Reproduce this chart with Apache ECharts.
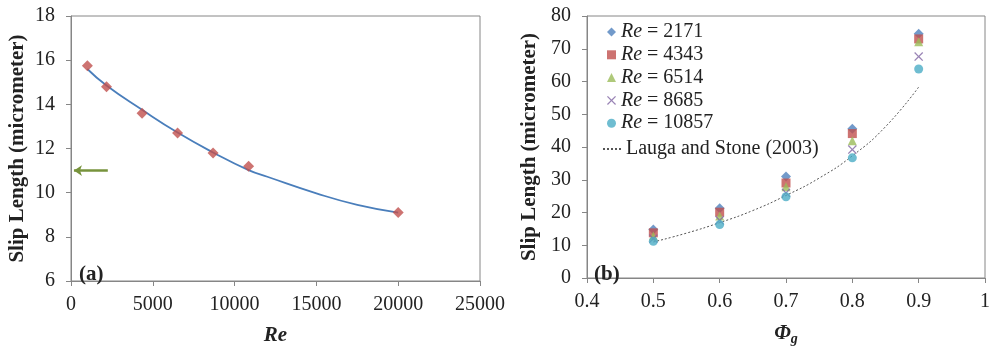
<!DOCTYPE html>
<html>
<head>
<meta charset="utf-8">
<script src="https://cdn.jsdelivr.net/npm/echarts@6/dist/echarts.min.js"></script>
<style>
  html, body { margin: 0; padding: 0; background: #fff; }
  #main { width: 993px; height: 351px; }
</style>
</head>
<body>
<div id="main"></div>
<script>
// (a) slip length vs Re
const leftRe = [1000, 2171, 4343, 6514, 8685, 10857, 20000];
const leftSlip = [15.75, 14.8, 13.6, 12.7, 11.8, 11.2, 9.1];
const fitRe = [1000, 2171, 4343, 6514, 8685, 10857, 12000, 15000, 17500, 20000];
const fitSlip = [15.6, 14.85, 13.75, 12.72, 11.82, 11.02, 10.72, 9.97, 9.45, 9.1];
const arrowY = 11;
const arrowFrom = 2250;
const arrowTo = 180;

// (b) slip length vs phi_g
const phi = [0.5, 0.6, 0.7, 0.8, 0.9];
const reNames = ['Re = 2171', 'Re = 4343', 'Re = 6514', 'Re = 8685', 'Re = 10857'];
const re2171 = [14.8, 21.3, 31.0, 45.6, 74.6];
const re4343 = [13.8, 20.1, 29.0, 44.1, 73.0];
const re6514 = [12.8, 18.9, 27.9, 41.9, 72.1];
const re8685 = [12.0, 17.6, 26.0, 39.2, 67.6];
const re10857 = [11.2, 16.3, 24.8, 36.7, 63.8];
const laugaName = 'Lauga and Stone (2003)';
const laugaPhi = [0.5, 0.55, 0.6, 0.65, 0.7, 0.75, 0.8, 0.85, 0.9];
const laugaSlip = [11.0, 13.7, 16.9, 20.6, 25.2, 30.5, 37.3, 46.2, 58.3];

const serif = '"Liberation Serif", "Times New Roman", serif';
const axisColor = '#868686';
const textColor = '#222';

const zip = (xs, ys) => xs.map((x, i) => [x, ys[i]]);
const crossPath = 'path://M0,1L1,0L5,4L9,0L10,1L6,5L10,9L9,10L5,6L1,10L0,9L4,5Z';

const reSets = [
  { data: re2171, symbol: 'diamond', size: 10, color: '#4F81BD' },
  { data: re4343, symbol: 'rect', size: 9, color: '#C0504D' },
  { data: re6514, symbol: 'triangle', size: 9, color: '#9BBB59' },
  { data: re8685, symbol: crossPath, size: 9, color: '#8064A2' },
  { data: re10857, symbol: 'circle', size: 9, color: '#4BACC6' },
];

const axisCommon = {
  axisLine: { show: true, lineStyle: { color: axisColor, width: 1 } },
  axisTick: { show: true, length: 5, lineStyle: { color: axisColor } },
  splitLine: { show: false },
  axisLabel: { color: textColor, fontFamily: serif, fontSize: 20 },
};

const legendText = {
  fontFamily: serif, fontSize: 20, color: textColor,
  rich: { i: { fontFamily: serif, fontSize: 20, fontStyle: 'italic', color: textColor } },
};

let myChart = echarts.init(document.getElementById('main'));
myChart.setOption({
  animation: false,
  title: [
    { text: '(a)', left: 74, top: 259, textStyle: { fontFamily: serif, fontSize: 21, fontWeight: 'bold', color: textColor } },
    { text: '(b)', left: 589, top: 259, textStyle: { fontFamily: serif, fontSize: 21, fontWeight: 'bold', color: textColor } },
  ],
  grid: [
    { left: 71, top: 16, width: 409, bottom: 65, show: true, borderColor: axisColor, borderWidth: 1 },
    { left: 587, top: 16, right: -2, bottom: 64, show: true, borderColor: axisColor, borderWidth: 1 },
  ],
  legend: [
    {
      orient: 'vertical',
      left: 602,
      top: 17,
      itemWidth: 9,
      itemHeight: 9,
      itemGap: 2.8,
      data: reNames,
      formatter: (name) => '{i|Re}' + name.slice(2),
      textStyle: legendText,
    },
    {
      orient: 'vertical',
      left: 597,
      top: 134,
      itemWidth: 18,
      itemHeight: 8,
      itemGap: 2,
      data: [laugaName],
      itemStyle: { opacity: 0 },
      textStyle: legendText,
    },
  ],
  xAxis: [
    {
      ...axisCommon,
      type: 'value', gridIndex: 0, min: 0, max: 25000, interval: 5000,
      axisLabel: { ...axisCommon.axisLabel, margin: 14, formatter: (v) => String(v) },
      name: 'Re', nameLocation: 'middle', nameGap: 44,
      nameTextStyle: { fontFamily: serif, fontSize: 21, fontWeight: 'bold', fontStyle: 'italic', color: textColor },
    },
    {
      ...axisCommon,
      type: 'value', gridIndex: 1, min: 0.4, max: 1.0, interval: 0.1,
      axisLabel: { ...axisCommon.axisLabel, margin: 14, formatter: (v) => (Math.abs(v - 1) < 1e-6 ? '1' : v.toFixed(1)) },
      name: '{p|Φ}{g|g}', nameLocation: 'middle', nameGap: 44,
      nameTextStyle: {
        rich: {
          p: { fontFamily: serif, fontSize: 21, fontWeight: 'bold', fontStyle: 'italic', color: textColor },
          g: { fontFamily: serif, fontSize: 14, fontWeight: 'bold', fontStyle: 'italic', color: textColor, padding: [10, 0, 0, 0] },
        },
      },
    },
  ],
  yAxis: [
    {
      ...axisCommon,
      type: 'value', gridIndex: 0, min: 6, max: 18, interval: 2,
      axisLabel: { ...axisCommon.axisLabel, margin: 16 },
      name: 'Slip Length (micrometer)', nameLocation: 'middle', nameGap: 43,
      nameTextStyle: { fontFamily: serif, fontSize: 21, fontWeight: 'bold', color: textColor },
    },
    {
      ...axisCommon,
      type: 'value', gridIndex: 1, min: 0, max: 80, interval: 10,
      axisLabel: { ...axisCommon.axisLabel, margin: 16 },
      name: 'Slip Length (micrometer)', nameLocation: 'middle', nameGap: 47,
      nameTextStyle: { fontFamily: serif, fontSize: 21, fontWeight: 'bold', color: textColor },
    },
  ],
  series: [
    {
      name: 'fit',
      type: 'line',
      xAxisIndex: 0, yAxisIndex: 0,
      smooth: true,
      symbol: 'none',
      lineStyle: { color: '#4A7EBB', width: 1.8 },
      data: zip(fitRe, fitSlip),
      z: 2,
    },
    {
      name: 'data',
      type: 'scatter',
      xAxisIndex: 0, yAxisIndex: 0,
      symbol: 'diamond',
      symbolSize: 11,
      itemStyle: { color: '#C0504D' },
      data: zip(leftRe, leftSlip),
      z: 3,
      markLine: {
        silent: true,
        symbol: ['none', 'arrow'],
        symbolSize: [8, 8],
        label: { show: false },
        lineStyle: { color: '#77933C', width: 2.5, type: 'solid' },
        data: [[{ coord: [arrowFrom, arrowY] }, { coord: [arrowTo, arrowY] }]],
      },
    },
    {
      name: laugaName,
      type: 'line',
      xAxisIndex: 1, yAxisIndex: 1,
      smooth: true,
      symbol: 'none',
      lineStyle: { color: '#555', width: 1, type: [2, 2] },
      itemStyle: { color: '#555' },
      data: zip(laugaPhi, laugaSlip),
      z: 2,
    },
    ...reSets.map((s, i) => ({
      name: reNames[i],
      type: 'scatter',
      xAxisIndex: 1, yAxisIndex: 1,
      symbol: s.symbol,
      symbolSize: s.size,
      itemStyle: { color: s.color },
      data: zip(phi, s.data),
      z: 3,
    })),
  ],
});
</script>
</body>
</html>
